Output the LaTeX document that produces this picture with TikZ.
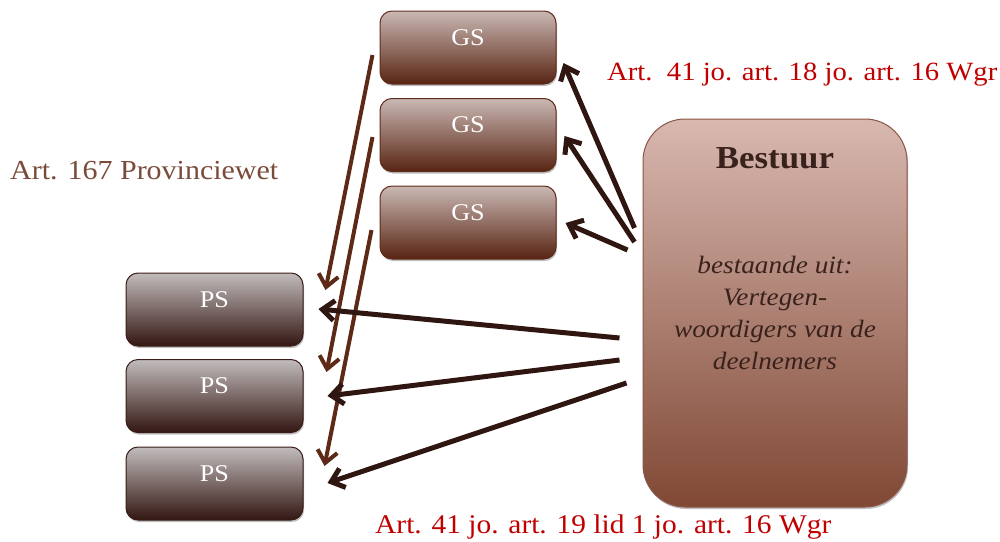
\documentclass[tikz,border=0pt]{standalone}
\usepackage{fontspec}
\setmainfont{Liberation Serif}[FakeStretch=1.09]
\usetikzlibrary{arrows.meta,calc,shadows}

\definecolor{gstop}{RGB}{202,184,180}
\definecolor{gsbot}{RGB}{88,36,18}
\definecolor{gsline}{RGB}{96,44,28}
\definecolor{pstop}{RGB}{194,188,188}
\definecolor{psbot}{RGB}{50,22,18}
\definecolor{psline}{RGB}{58,28,22}
\definecolor{btop}{RGB}{216,184,176}
\definecolor{bbot}{RGB}{128,72,52}
\definecolor{bline}{RGB}{140,86,70}
\definecolor{darkarrow}{RGB}{48,22,17}
\definecolor{brownarrow}{RGB}{92,42,22}
\definecolor{lawred}{RGB}{192,0,0}
\definecolor{lawbrown}{RGB}{122,74,58}
\definecolor{btext}{RGB}{58,34,28}

\begin{document}
\begin{tikzpicture}[x=1pt,y=-1pt,
  boxshadow/.style={drop shadow={shadow xshift=1pt,shadow yshift=-2pt,opacity=0.25,fill=black}},
  gsbox/.style={boxshadow,rounded corners=12pt,line width=1pt,inner sep=0pt,
    draw=gsline,top color=gstop,bottom color=gsbot,
    minimum width=176pt,minimum height=73pt},
  psbox/.style={boxshadow,rounded corners=12pt,line width=1pt,inner sep=0pt,
    draw=psline,top color=pstop,bottom color=psbot,
    minimum width=177pt,minimum height=73pt},
  bbox/.style={boxshadow,rounded corners=42pt,line width=1pt,inner sep=0pt,
    draw=bline,top color=btop,bottom color=bbot,
    minimum width=264pt,minimum height=388pt},
  boxlabel/.style={text=white,font=\fontsize{24}{28}\selectfont,inner sep=0pt},
  darr/.style={draw=darkarrow,line width=5pt,
    -{Straight Barb[length=12pt,width=20pt]}},
  barr/.style={draw=brownarrow,line width=4pt,
    -{Straight Barb[length=12pt,width=20pt]}},
  lawtext/.style={inner sep=0pt,anchor=base west,font=\fontsize{27}{30}\selectfont}
]
\useasboundingbox (0,0) rectangle (1000,541);

% GS boxes
\node[gsbox] (gs1) at (468,47.5) {};
\node[gsbox] (gs2) at (468,135) {};
\node[gsbox] (gs3) at (468,222.5) {};
\node[boxlabel] (gs1l) at ($(gs1.center)+(0,-10)$) {GS};
\node[boxlabel] (gs2l) at ($(gs2.center)+(0,-10)$) {GS};
\node[boxlabel] (gs3l) at ($(gs3.center)+(0,-10)$) {GS};

% PS boxes
\node[psbox] (ps1) at (214.5,309.5) {};
\node[psbox] (ps2) at (214.5,396) {};
\node[psbox] (ps3) at (214.5,483.5) {};
\node[boxlabel] (ps1l) at ($(ps1.center)+(0,-10)$) {PS};
\node[boxlabel] (ps2l) at ($(ps2.center)+(0,-10)$) {PS};
\node[boxlabel] (ps3l) at ($(ps3.center)+(0,-10)$) {PS};

% Bestuur box
\node[bbox] (bestuur) at (775,313) {};
\node[inner sep=0pt,text=btext,font=\fontsize{32}{36}\selectfont\bfseries]
  (btitle) at (775,158) {Bestuur};
\node[inner sep=0pt,text=btext,align=center,
  font=\fontsize{25}{32}\selectfont\itshape] (bdesc) at (775,313)
  {bestaande uit:\\Vertegen-\\woordigers van de\\deelnemers};

% Bestuur to GS
\draw[darr] ($(bestuur.west)+(-8,-85)$) -- ($(gs1.east)+(7,15.5)$);
\draw[darr] ($(bestuur.west)+(-8,-71)$) -- ($(gs2.east)+(8,1)$);
\draw[darr] ($(bestuur.west)+(-15,-63)$) -- ($(gs3.east)+(9,0.5)$);

% GS to PS
\draw[barr] ($(gs1.west)+(-7,7.5)$) -- ($(ps1.east)+(22,-19.5)$);
\draw[barr] ($(gs2.west)+(-7,2)$) -- ($(ps2.east)+(23,-24)$);
\draw[barr] ($(gs3.west)+(-8,7.5)$) -- ($(ps3.east)+(21,-17.5)$);

% Bestuur to PS
\draw[darr] ($(bestuur.west)+(-23,25)$) -- ($(ps1.east)+(15,-0.5)$);
\draw[darr] ($(bestuur.west)+(-23,47)$) -- ($(ps2.east)+(24,0)$);
\draw[darr] ($(bestuur.west)+(-16,70)$) -- ($(ps3.east)+(24,-0.5)$);

% Legal references
\node[lawtext,text=lawbrown,font=\fontsize{27.5}{30}\selectfont] (prov) at (10,179) {Art. 167 Provinciewet};
\node[lawtext,text=lawred,font=\fontsize{26.3}{30}\selectfont] (wgrtop) at (607,80) {Art.\ \ 41 jo. art. 18 jo. art. 16 Wgr};
\node[lawtext,text=lawred] (wgrbot) at (375,533) {Art. 41 jo. art. 19 lid 1 jo. art. 16 Wgr};
\end{tikzpicture}
\end{document}
